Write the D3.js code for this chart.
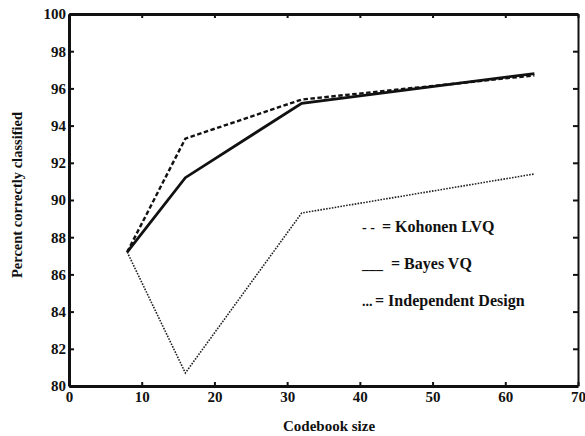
<!DOCTYPE html>
<html>
<head>
<meta charset="utf-8">
<script src="https://cdn.jsdelivr.net/npm/d3@7/dist/d3.min.js"></script>
<style>
  body { margin: 0; background: #fff; }
  svg { display: block; }
  text { font-family: "Liberation Serif", "Times New Roman", serif; font-weight: bold; fill: #111; }
  .axis path { stroke: #111; stroke-width: 3px; }
  .axis line { stroke: #111; stroke-width: 2px; }
  .axis text { font-size: 15px; font-family: "Liberation Serif", "Times New Roman", serif; }
</style>
</head>
<body>
<svg id="chart" width="585" height="436"></svg>
<script>
// codebook sizes and accuracy (%) per design
const codebookSizes = [8, 16, 32, 64];
const kohonenLVQ = [87.2, 93.3, 95.4, 96.7];
const bayesVQ = [87.2, 91.2, 95.2, 96.8];
const independentDesign = [87.2, 80.7, 89.3, 91.4];

const xTicks = [0, 10, 20, 30, 40, 50, 60, 70];
const yTicks = [80, 82, 84, 86, 88, 90, 92, 94, 96, 98, 100];

const legendMarkers = ['- -', '___', '...'];
const legendLabels = ['= Kohonen LVQ', '= Bayes VQ', '= Independent Design'];

const svg = d3.select('#chart');
const margin = { top: 14, right: 7, bottom: 50, left: 69 };
const width = +svg.attr('width') - margin.left - margin.right;
const height = +svg.attr('height') - margin.top - margin.bottom;

const g = svg.append('g')
  .attr('transform', 'translate(' + margin.left + ',' + margin.top + ')');

const x = d3.scaleLinear().domain([0, 70]).range([0, width]);
const y = d3.scaleLinear().domain([80, 100]).range([height, 0]);

// lines
const series = [
  { values: kohonenLVQ, width: 2.4, dash: '4.5,2.5', color: '#111' },
  { values: bayesVQ, width: 2.8, dash: null, color: '#111' },
  { values: independentDesign, width: 1.6, dash: '1.6,1.3', color: '#222' },
];

const line = d3.line()
  .x((d, i) => x(codebookSizes[i]))
  .y(d => y(d));

series.forEach(s => {
  g.append('path')
    .datum(s.values)
    .attr('fill', 'none')
    .attr('stroke', s.color)
    .attr('stroke-width', s.width)
    .attr('stroke-dasharray', s.dash)
    .attr('d', line);
});

// axes, ticks pointing inward
g.append('g')
  .attr('class', 'axis')
  .attr('transform', 'translate(0,' + height + ')')
  .call(d3.axisBottom(x).tickValues(xTicks).tickSize(-4).tickSizeOuter(0).tickPadding(5));

g.append('g')
  .attr('class', 'axis')
  .call(d3.axisLeft(y).tickValues(yTicks).tickSize(-5).tickSizeOuter(0).tickPadding(3));

g.append('g')
  .attr('class', 'axis')
  .call(d3.axisTop(x).tickValues(xTicks).tickSize(-4).tickSizeOuter(0).tickFormat(''));

g.append('g')
  .attr('class', 'axis right')
  .attr('transform', 'translate(' + width + ',0)')
  .call(d3.axisRight(y).tickValues(yTicks).tickSize(-5).tickSizeOuter(0).tickFormat(''))
  .select('path').style('stroke-width', '2px');

// legend
const labelOffsets = [20, 29, 13];
const legend = g.selectAll('.legend')
  .data(legendLabels)
  .enter()
  .append('g')
  .attr('class', 'legend')
  .attr('transform', (d, i) => 'translate(293,' + (218 + i * 37) + ')');

legend.append('text')
  .style('font-size', '14px')
  .text((d, i) => legendMarkers[i]);

legend.append('text')
  .attr('x', (d, i) => labelOffsets[i])
  .style('font-size', '16px')
  .text(d => d);

// axis titles
svg.append('text')
  .attr('x', 329)
  .attr('y', 431)
  .attr('text-anchor', 'middle')
  .style('font-size', '15px')
  .text('Codebook size');

svg.append('text')
  .attr('transform', 'translate(22,195) rotate(-90)')
  .attr('text-anchor', 'middle')
  .style('font-size', '14.5px')
  .text('Percent correctly classified');
</script>
</body>
</html>
